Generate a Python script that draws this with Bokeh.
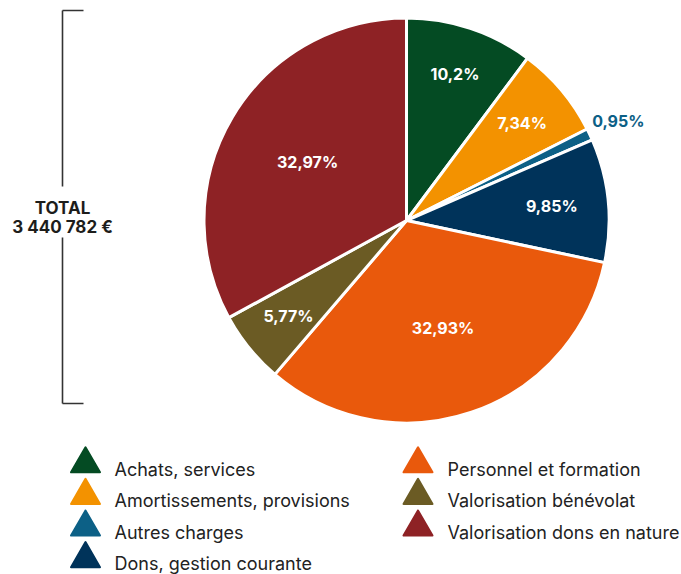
import math
from bokeh.plotting import figure
from bokeh.models import Range1d
from bokeh.core.properties import value
from bokeh.embed import file_html
from bokeh.resources import INLINE

# ---- data ----
categories = ["Achats, services", "Amortissements, provisions", "Autres charges",
              "Dons, gestion courante", "Personnel et formation",
              "Valorisation bénévolat", "Valorisation dons en nature"]
shares = [10.2, 7.34, 0.95, 9.85, 32.93, 5.77, 32.97]
colors = ["#044b23", "#f39200", "#0c6086", "#00335a", "#e9590c", "#6b5b24", "#8e2225"]
total_label = ["TOTAL", "3 440 782 €"]

# ---- layout (pixel space, y up) ----
W, H = 681, 574
def X(ix): return ix
def Y(iy): return H - iy

cx, cy, R = X(406), Y(220), 202.5
label_r = [154, 151, 234, 146, 114, 152, 115]
inside = [True, True, False, True, True, True, True]

p = figure(width=W, height=H, output_backend="svg", toolbar_location=None,
           x_range=Range1d(0, W), y_range=Range1d(0, H), min_border=0)
p.axis.visible = False
p.grid.visible = False
p.outline_line_color = None
p.background_fill_color = "white"

tot = sum(shares)
starts, ends, mids = [], [], []
acc = 0.0
for v in shares:
    a0 = math.pi / 2 - 2 * math.pi * acc / tot
    acc += v
    a1 = math.pi / 2 - 2 * math.pi * acc / tot
    starts.append(a0); ends.append(a1); mids.append((a0 + a1) / 2)

p.wedge(x=[cx] * len(shares), y=[cy] * len(shares), radius=R,
        start_angle=starts, end_angle=ends, direction="clock",
        fill_color=colors, line_color="white", line_width=3)

lx = [cx + r * math.cos(m) for r, m in zip(label_r, mids)]
ly = [cy + r * math.sin(m) for r, m in zip(label_r, mids)]
ltxt = [f"{v:g}".replace(".", ",") + "%" for v in shares]
lcol = ["white" if ins else c for ins, c in zip(inside, colors)]
p.text(x=lx, y=ly, text=ltxt, text_color=lcol, text_font=value("Inter"),
       text_font_style="bold", text_font_size="16px",
       text_align="center", text_baseline="middle")

# bracket
bx = X(62)
p.segment(x0=[bx, bx, bx, bx], y0=[Y(10), Y(237), Y(10), Y(403)],
          x1=[bx, bx, X(83), X(83)], y1=[Y(186), Y(403), Y(10), Y(403)],
          line_color="#333333", line_width=1.6)
p.text(x=[bx, bx], y=[Y(207), Y(226)], text=total_label, text_color="#1d1d1b",
       text_font=value("Inter"), text_font_style="bold", text_font_size="17px",
       text_align="center", text_baseline="middle")

# legend
n_left = 4
mx, my, tx, ty = [], [], [], []
for i in range(len(categories)):
    col = 0 if i < n_left else 1
    row = i if i < n_left else i - n_left
    mx.append(X(85) if col == 0 else X(417.5))
    tx.append(X(114) if col == 0 else X(447))
    my.append(Y(463.5 + 31.6 * row))
    ty.append(Y(468.5 + 31.6 * row))
p.scatter(x=mx, y=my, marker="triangle", size=29, fill_color=colors,
          line_color=colors, line_width=2, line_join="round")
p.text(x=tx, y=ty, text=categories, text_color="#222222",
       text_font=value("Inter"), text_font_size="18px",
       text_align="left", text_baseline="middle")

open("out.html", "w").write(file_html(p, INLINE))
